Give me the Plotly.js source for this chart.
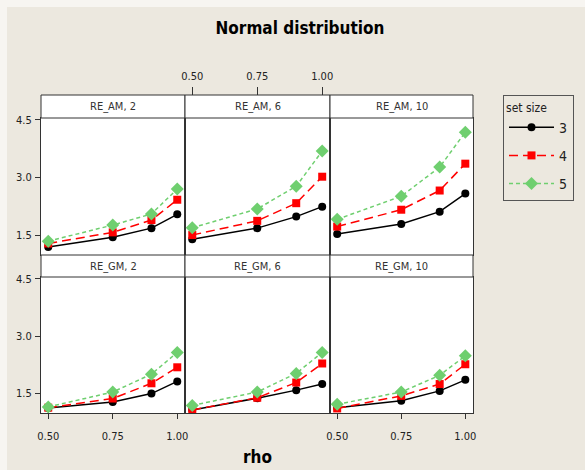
<!DOCTYPE html>
<html>
<head>
<meta charset="utf-8">
<script src="https://cdn.plot.ly/plotly-3.0.1.min.js"></script>
<style>html,body{margin:0;padding:0;background:#ece8df;}</style>
</head>
<body>
<div id="chart" style="width:585px;height:470px;"></div>
<script>
// ---- data ----
const rho = [0.50, 0.75, 0.90, 1.00];
const panelLabels = ["RE_AM, 2", "RE_AM, 6", "RE_AM, 10", "RE_GM, 2", "RE_GM, 6", "RE_GM, 10"];
const setSizes = ["3", "4", "5"];
const xTickVals = [0.50, 0.75, 1.00];
const xTickText = ["0.50", "0.75", "1.00"];
const yTickVals = [1.5, 3.0, 4.5];
const yTickText = ["1.5", "3.0", "4.5"];

// rows: set size 3, 4, 5
const reAM2  = [[1.19, 1.44, 1.68, 2.04], [1.28, 1.57, 1.89, 2.42], [1.34, 1.76, 2.05, 2.70]];
const reAM6  = [[1.39, 1.68, 1.98, 2.24], [1.50, 1.87, 2.33, 3.02], [1.69, 2.18, 2.77, 3.69]];
const reAM10 = [[1.53, 1.79, 2.11, 2.58], [1.72, 2.16, 2.66, 3.36], [1.91, 2.51, 3.27, 4.18]];
const reGM2  = [[1.11, 1.27, 1.49, 1.81], [1.12, 1.36, 1.76, 2.18], [1.14, 1.53, 2.00, 2.57]];
const reGM6  = [[1.06, 1.37, 1.58, 1.74], [1.06, 1.38, 1.78, 2.28], [1.18, 1.53, 2.02, 2.57]];
const reGM10 = [[1.12, 1.30, 1.56, 1.85], [1.10, 1.43, 1.74, 2.26], [1.21, 1.53, 1.97, 2.48]];
const panelData = [reAM2, reAM6, reAM10, reGM2, reGM6, reGM10];

// ---- styling ----
const W = 585, H = 470;
const fx = v => v / W;
const fy = v => 1 - v / H;
const FONT = "DejaVu Sans Condensed, Liberation Sans Narrow, sans-serif";
const colPx = [[41, 185], [185, 330], [330, 473]];
const rowPx = [[118, 255], [277, 413]];
const stripPx = [[95, 118], [255, 277]];
const seriesStyle = [
  {color: "#000000", dash: "solid", symbol: "circle", size: 8},
  {color: "#ff0000", dash: "9px,5px", symbol: "square", size: 8},
  {color: "#6fcf6f", dash: "4px,3px", symbol: "diamond", size: 10}
];
const XR = [0.472, 1.03];
const YR = [0.98, 4.55];

const traces = [];
panelData.forEach((pd, p) => {
  const ax = p === 0 ? "" : String(p + 1);
  pd.forEach((vals, s) => {
    const st = seriesStyle[s];
    traces.push({
      type: "scatter", mode: "lines+markers",
      x: rho, y: vals,
      xaxis: "x" + ax, yaxis: "y" + ax,
      name: setSizes[s], legendgroup: "s" + setSizes[s],
      showlegend: p === 0,
      line: {color: st.color, dash: st.dash, width: 1.5},
      marker: {color: st.color, symbol: st.symbol, size: st.size}
    });
  });
});
// carrier for the top axis over the middle column
traces.push({type: "scatter", mode: "markers", x: [], y: [], xaxis: "x7", yaxis: "y2", showlegend: false, hoverinfo: "skip"});

const layout = {
  width: W, height: H,
  margin: {l: 0, r: 0, t: 0, b: 0},
  paper_bgcolor: "#ece8df",
  plot_bgcolor: "#ffffff",
  font: {family: FONT, color: "#222", size: 11},
  title: {text: "<b>Normal distribution</b>", x: fx(300), xanchor: "center", y: fy(28), yanchor: "middle",
          font: {family: FONT, size: 17, color: "#000"}},
  showlegend: true,
  legend: {
    x: fx(503), y: fy(95), xanchor: "left", yanchor: "top",
    bgcolor: "#ece8df", bordercolor: "#555", borderwidth: 1,
    title: {text: "set size", font: {family: FONT, size: 12, color: "#222"}},
    font: {family: FONT, size: 14, color: "#222"},
    itemwidth: 45, tracegroupgap: 7, traceorder: "grouped"
  },
  shapes: [],
  annotations: []
};

for (let p = 0; p < 6; p++) {
  const r = Math.floor(p / 3), c = p % 3;
  const ax = p === 0 ? "" : String(p + 1);
  const bottomTicks = (r === 1 && c !== 1);
  layout["xaxis" + ax] = {
    domain: [fx(colPx[c][0]), fx(colPx[c][1])],
    anchor: "y" + ax, range: XR,
    showgrid: false, zeroline: false,
    showline: true, mirror: true, linecolor: "#333", linewidth: 1,
    tickmode: "array", tickvals: xTickVals, ticktext: xTickText,
    ticks: bottomTicks ? "outside" : "", ticklen: 5, tickcolor: "#333",
    showticklabels: bottomTicks, ticklabelstandoff: 8,
    tickfont: {family: FONT, size: 11, color: "#222"},
    fixedrange: true
  };
  layout["yaxis" + ax] = {
    domain: [fy(rowPx[r][1]), fy(rowPx[r][0])],
    anchor: "x" + ax, range: YR,
    showgrid: false, zeroline: false,
    showline: true, mirror: true, linecolor: "#333", linewidth: 1,
    tickmode: "array", tickvals: yTickVals, ticktext: yTickText,
    ticks: c === 0 ? "outside" : "", ticklen: 5, tickcolor: "#333",
    showticklabels: c === 0, ticklabelstandoff: 1,
    tickfont: {family: FONT, size: 11, color: "#222"},
    fixedrange: true
  };
  // strip header
  layout.shapes.push({
    type: "rect", xref: "paper", yref: "paper",
    x0: fx(colPx[c][0]), x1: fx(colPx[c][1]),
    y0: fy(stripPx[r][1]), y1: fy(stripPx[r][0]),
    fillcolor: "#ffffff", line: {color: "#333", width: 1}, layer: "above"
  });
  layout.annotations.push({
    text: panelLabels[p], xref: "paper", yref: "paper",
    x: fx((colPx[c][0] + colPx[c][1]) / 2), y: fy((stripPx[r][0] + stripPx[r][1]) / 2),
    xanchor: "center", yanchor: "middle", showarrow: false,
    font: {family: FONT, size: 11, color: "#333"}
  });
}
// top axis above the middle strip
layout.xaxis7 = {
  overlaying: "x2", anchor: "free", position: fy(95), side: "top",
  range: XR, showgrid: false, zeroline: false, showline: false,
  tickmode: "array", tickvals: xTickVals, ticktext: xTickText,
  ticks: "outside", ticklen: 8, tickcolor: "#333", ticklabelstandoff: 3,
  tickfont: {family: FONT, size: 11, color: "#222"}, fixedrange: true
};
// lighter outer border
layout.shapes.push({type: "rect", xref: "paper", yref: "paper", x0: 0, x1: fx(7), y0: 0, y1: 1,
  fillcolor: "#f7f5f1", line: {width: 0}, layer: "below"});
layout.shapes.push({type: "rect", xref: "paper", yref: "paper", x0: 0, x1: 1, y0: fy(7), y1: 1,
  fillcolor: "#f7f5f1", line: {width: 0}, layer: "below"});
// x-axis label
layout.annotations.push({
  text: "<b>rho</b>", xref: "paper", yref: "paper",
  x: fx(257), y: fy(457), xanchor: "center", yanchor: "middle", showarrow: false,
  font: {family: FONT, size: 17, color: "#000"}
});

Plotly.newPlot("chart", traces, layout, {displayModeBar: false, staticPlot: true});
</script>
</body>
</html>
